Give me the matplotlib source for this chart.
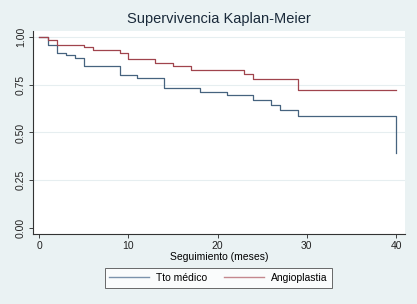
import matplotlib
matplotlib.use("Agg")
import matplotlib.pyplot as plt

plt.rcParams['font.family'] = ['Liberation Sans', 'DejaVu Sans']

# Kaplan-Meier estimates
t_med = [0, 1, 2, 3, 4, 5, 9, 11, 14, 18, 21, 24, 26, 27, 29, 40]
s_med = [1.0, 0.957, 0.917, 0.905, 0.891, 0.848, 0.802, 0.785, 0.732, 0.714,
         0.696, 0.671, 0.645, 0.620, 0.587, 0.39]

t_ang = [0, 1, 2, 5, 6, 9, 10, 13, 15, 17, 23, 24, 29, 40]
s_ang = [1.0, 0.987, 0.960, 0.948, 0.935, 0.918, 0.884, 0.867, 0.847, 0.828,
         0.807, 0.779, 0.722, 0.722]

labels = ["Tto médico", "Angioplastia"]
xticks = [0, 10, 20, 30, 40]
yticks = [0.0, 0.25, 0.5, 0.75, 1.0]

bg = '#eaf2f3'
fig = plt.figure(figsize=(4.17, 3.04), dpi=100, facecolor=bg)
ax = fig.add_axes([0.0791, 0.2303, 0.892, 0.668])
ax.set_facecolor('white')

ax.step(t_med, s_med, where='post', color='#46637f', lw=0.9, label=labels[0])
ax.step(t_ang, s_ang, where='post', color='#a0444d', lw=0.9, label=labels[1])

ax.set_xlim(-0.7, 41.0)
ax.set_ylim(-0.033, 1.033)
ax.set_xticks(xticks)
ax.set_yticks(yticks)
ax.set_yticklabels(["%.2f" % v for v in yticks], rotation=90, va='center')
for v in yticks[1:]:
    ax.axhline(v, color='#e6eef0', lw=0.8, zorder=0)

for s in ['top', 'right']:
    ax.spines[s].set_visible(False)
for s in ['left', 'bottom']:
    ax.spines[s].set_color('#333333')
    ax.spines[s].set_linewidth(0.8)
ax.tick_params(direction='out', length=3, width=0.6, labelsize=7.5,
               colors='#222222', pad=2)

ax.set_xlabel("Seguimiento (meses)", fontsize=7.5, labelpad=1)
ax.set_title("Supervivencia Kaplan-Meier", fontsize=10.5, color='#1a2a3a', pad=6)

leg = fig.legend(loc='center', bbox_to_anchor=(0.524, 0.0855), ncol=2,
                 fontsize=7.5, frameon=True, fancybox=False, handlelength=3.8,
                 columnspacing=1.6, borderpad=0.45, handletextpad=0.7)
leg.get_frame().set_edgecolor('#444444')
leg.get_frame().set_linewidth(0.7)
for h, c in zip(leg.get_lines(), ['#7b93ab', '#c4888e']):
    h.set_color(c)
    h.set_linewidth(1.0)

fig.savefig('out.png', dpi=100, facecolor=bg)
